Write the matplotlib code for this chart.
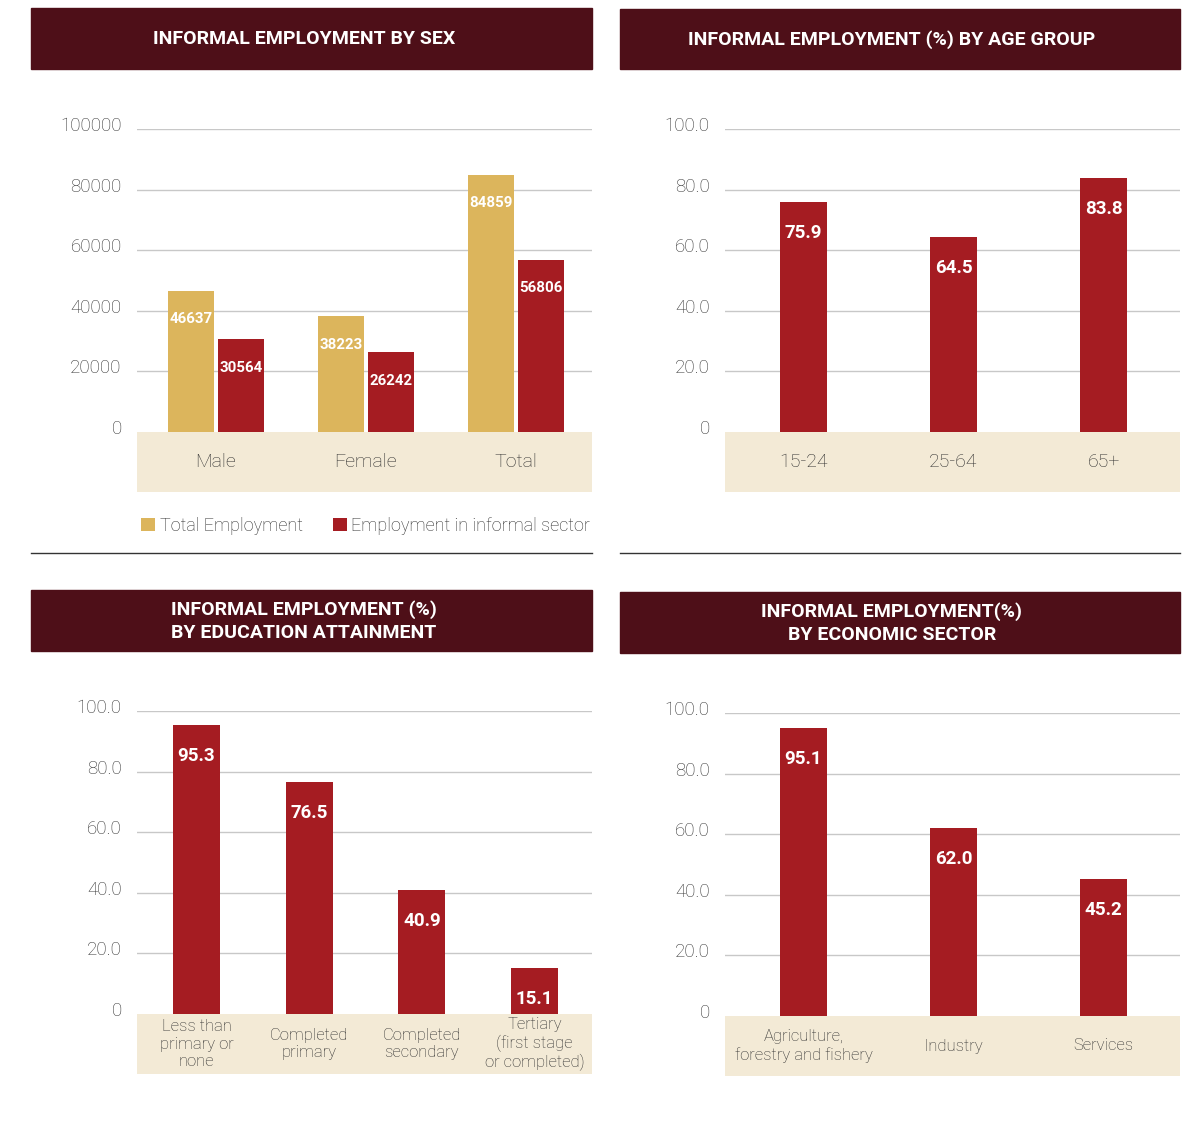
import numpy as np
from matplotlib import pyplot as plt
from matplotlib.patches import Rectangle
from matplotlib.lines import Line2D
from matplotlib.transforms import ScaledTranslation

plt.rcParams['font.family'] = ['Roboto', 'DejaVu Sans']

# data
sex_categories = ['Male', 'Female', 'Total']
total_emp = [46637, 38223, 84859]
informal_emp = [30564, 26242, 56806]

age_groups = ['15-24', '25-64', '65+']
age_pct = [75.9, 64.5, 83.8]

edu_levels = ['Less than\nprimary or\nnone', 'Completed\nprimary',
              'Completed\nsecondary', 'Tertiary\n(first stage\nor completed)']
edu_pct = [95.3, 76.5, 40.9, 15.1]

sectors = ['Agriculture,\nforestry and fishery', 'Industry', 'Services']
sector_pct = [95.1, 62.0, 45.2]

W, H = 1196, 1129
HEAD = '#4e0f18'
RED = '#a51c22'
GOLD = '#dcb55c'
BEIGE = '#f3ead6'
TXT = '#2e2e2e'

fig = plt.figure(figsize=(W / 100, H / 100), dpi=100)


def px_axes(x0, y0, x1, y1):
    return fig.add_axes([x0 / W, 1 - y1 / H, (x1 - x0) / W, (y1 - y0) / H])


def header(x0, y0, x1, y1, title, tx):
    fig.patches.append(Rectangle((x0 / W, 1 - y1 / H), (x1 - x0) / W, (y1 - y0) / H,
                                 transform=fig.transFigure, color=HEAD, zorder=0))
    fig.text(tx / W, 1 - (y0 + y1 + 1) / 2 / H, title, color='white', fontsize=14,
             fontweight='bold', ha='center', va='center', linespacing=1.3)


def setup(ax, ymax, band, ticks, ticklabels, xlim, cats, catsize, catspacing=1.1):
    ax.set_xlim(*xlim)
    ax.set_ylim(-band, ymax)
    ax.axhspan(-band, 0, color=BEIGE, lw=0, zorder=0)
    ax.set_yticks(ticks)
    ax.set_yticklabels(ticklabels)
    ax.set_xticks([])
    ax.tick_params(axis='y', length=0, pad=11, labelsize=13.5, labelcolor='#333333')
    up = ScaledTranslation(0, 5 / 100, fig.dpi_scale_trans)
    for lab in ax.get_yticklabels():
        lab.set_fontweight('light')
        lab.set_transform(lab.get_transform() + up)
    for s in ax.spines.values():
        s.set_visible(False)
    for t in ticks[1:]:
        ax.axhline(t, color='#c8c8c8', lw=1, zorder=0.5)
    for i, c in enumerate(cats):
        ax.text(i, -band / 2, c, ha='center', va='center', fontsize=catsize,
                color=TXT, fontweight='light', linespacing=catspacing)


# panel 1: by sex
header(31, 8, 592, 69, 'INFORMAL EMPLOYMENT BY SEX', 304)
ax1 = px_axes(137, 129, 592, 492)
x = np.arange(len(sex_categories))
setup(ax1, 100000, 100000 * 60 / 303, [0, 20000, 40000, 60000, 80000, 100000],
      ['0', '20000', '40000', '60000', '80000', '100000'], (-0.527, 2.51),
      sex_categories, 14)
b1 = ax1.bar(x - 0.167, total_emp, 0.307, color=GOLD, zorder=2)
b2 = ax1.bar(x + 0.167, informal_emp, 0.307, color=RED, zorder=2)
for xi, v in zip(x - 0.167, total_emp):
    ax1.annotate(str(v), (xi, v), xytext=(0, -20.5), textcoords='offset points',
                 ha='center', va='center', color='white', fontsize=10.8, fontweight='bold')
for xi, v in zip(x + 0.167, informal_emp):
    ax1.annotate(str(v), (xi, v), xytext=(0, -20.5), textcoords='offset points',
                 ha='center', va='center', color='white', fontsize=10.8, fontweight='bold')
leg = fig.legend([b1, b2], ['Total Employment', 'Employment in informal sector'],
                 loc='center left', bbox_to_anchor=(125 / W, 1 - 526 / H), ncol=2,
                 frameon=False, fontsize=13, handlelength=0.75, handleheight=0.75,
                 handletextpad=0.27, columnspacing=1.68, labelcolor=TXT)
for t in leg.get_texts():
    t.set_fontweight('light')

# panel 2: by age
header(620, 9, 1180, 69, 'INFORMAL EMPLOYMENT (%) BY AGE GROUP', 892)
ax2 = px_axes(725, 129, 1180, 492)
pct_ticks = [0, 20, 40, 60, 80, 100]
pct_labels = ['0', '20.0', '40.0', '60.0', '80.0', '100.0']
setup(ax2, 100, 100 * 60 / 303, pct_ticks, pct_labels, (-0.523, 2.51), age_groups, 14)
ax2.bar(np.arange(3), age_pct, 0.313, color=RED, zorder=2)
for xi, v in enumerate(age_pct):
    ax2.annotate(f'{v:.1f}', (xi, v), xytext=(0, -22.5), textcoords='offset points',
                 ha='center', va='center', color='white', fontsize=13.5, fontweight='bold')

# separators
fig.add_artist(Line2D([31 / W, 592 / W], [1 - 553 / H] * 2, color='#333333', lw=1))
fig.add_artist(Line2D([620 / W, 1180 / W], [1 - 553 / H] * 2, color='#333333', lw=1))

# panel 3: by education
header(31, 590, 592, 651, 'INFORMAL EMPLOYMENT (%)\nBY EDUCATION ATTAINMENT', 304)
ax3 = px_axes(137, 711, 592, 1074)
setup(ax3, 100, 100 * 60 / 303, pct_ticks, pct_labels, (-0.528, 3.51), edu_levels, 12, 1.18)
ax3.bar(np.arange(4), edu_pct, 0.417, color=RED, zorder=2)
for xi, v in enumerate(edu_pct):
    ax3.annotate(f'{v:.1f}', (xi, v), xytext=(0, -22.5), textcoords='offset points',
                 ha='center', va='center', color='white', fontsize=13.5, fontweight='bold')

# panel 4: by sector
header(620, 592, 1180, 653, 'INFORMAL EMPLOYMENT(%)\nBY ECONOMIC SECTOR', 892)
ax4 = px_axes(725, 713, 1180, 1076)
setup(ax4, 100, 100 * 60 / 303, pct_ticks, pct_labels, (-0.523, 2.51), sectors, 12, 1.18)
ax4.bar(np.arange(3), sector_pct, 0.313, color=RED, zorder=2)
for xi, v in enumerate(sector_pct):
    ax4.annotate(f'{v:.1f}', (xi, v), xytext=(0, -22.5), textcoords='offset points',
                 ha='center', va='center', color='white', fontsize=13.5, fontweight='bold')

plt.savefig('out.png', dpi=100)
